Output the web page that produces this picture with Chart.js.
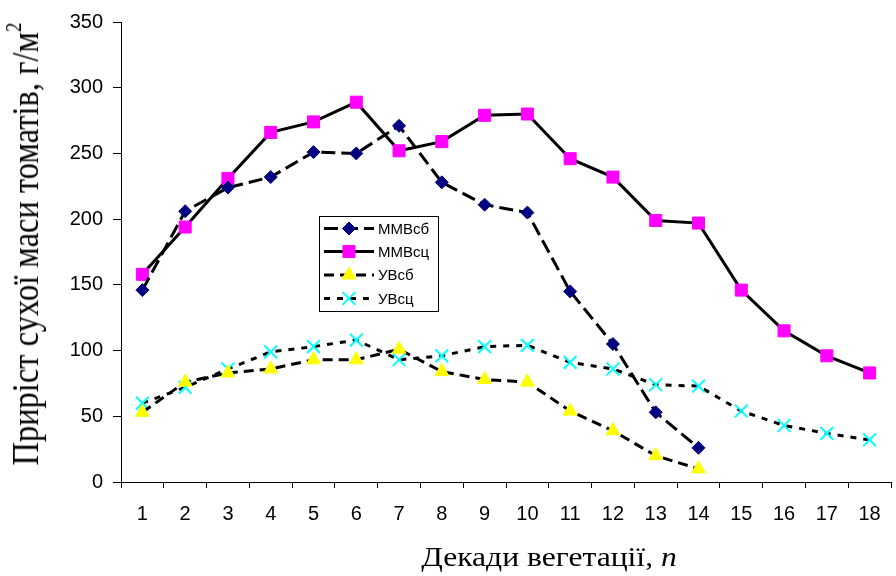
<!DOCTYPE html>
<html>
<head>
<meta charset="utf-8">
<script src="https://cdn.jsdelivr.net/npm/chart.js@4/dist/chart.umd.min.js"></script>
<style>
  html, body { margin: 0; padding: 0; background: #fff; overflow: hidden; width: 896px; height: 576px; }
  #wrap { position: relative; width: 896px; height: 576px; overflow: hidden; }
  canvas { position: absolute; left: 0; top: 0; }
  .ytitle {
    position: absolute; left: 25px; top: 244px;
    transform: translate(-50%, -50%) scaleX(1.16) rotate(-90deg);
    font-family: "Liberation Serif", "Times New Roman", serif; font-size: 32.5px;
    white-space: nowrap; color: #000; line-height: 1;
  }
  .ytitle sup { font-size: 19px; position: relative; top: -3px; }
  .xtitle {
    position: absolute; left: 549px; top: 557px;
    transform: translate(-50%, -50%) scaleX(1.15);
    font-family: "Liberation Serif", "Times New Roman", serif; font-size: 27.5px;
    white-space: nowrap; color: #000; line-height: 1;
  }
</style>
</head>
<body>
<div id="wrap">
  <canvas id="c" width="902" height="576" style="width:902px;height:576px"></canvas>
  <div class="ytitle">Приріст сухої маси томатів, г/м<sup>2</sup></div>
  <div class="xtitle">Декади вегетації, <i>n</i></div>
</div>
<script>
const categories = ['1','2','3','4','5','6','7','8','9','10','11','12','13','14','15','16','17','18'];
const seriesNames = ['ММВсб', 'ММВсц', 'УВсб', 'УВсц'];
const mmvSb = [146, 206, 224, 232, 251, 250, 271, 228, 211, 205, 145, 105, 53, 26, null, null, null, null];
const mmvSc = [158, 194, 231, 266, 274, 289, 252, 259, 279, 280, 246, 232, 199, 197, 146, 115, 96, 83];
const uvSb  = [53, 76, 83, 86, 93, 93, 101, 84, 78, 76, 54, 39, 20, 10, null, null, null, null];
const uvSc  = [60, 72, 86, 99, 103, 108, 93, 96, 103, 104, 91, 86, 74, 73, 54, 43, 37, 32];
const yTicks = [0, 50, 100, 150, 200, 250, 300, 350];

const legendPlugin = {
  id: 'boxLegend',
  afterDraw(chart) {
    const ctx = chart.ctx;
    const x0 = 319, y0 = 216, w = 119, h = 95;
    ctx.save();
    ctx.fillStyle = '#fff';
    ctx.fillRect(x0, y0, w, h);
    ctx.strokeStyle = '#000';
    ctx.lineWidth = 1;
    ctx.strokeRect(x0 + 0.5, y0 + 0.5, w, h);
    const rows = [228.5, 251.5, 275, 298.5];
    chart.data.datasets.forEach((ds, i) => {
      const y = rows[i];
      ctx.save();
      ctx.strokeStyle = ds.borderColor;
      ctx.lineWidth = ds.borderWidth;
      ctx.setLineDash(ds.borderDash || []);
      ctx.beginPath();
      ctx.moveTo(324, y);
      ctx.lineTo(374, y);
      ctx.stroke();
      ctx.restore();
      ctx.save();
      ctx.setLineDash([]);
      ctx.fillStyle = ds.pointBackgroundColor;
      ctx.strokeStyle = ds.pointBorderColor;
      ctx.lineWidth = ds.pointBorderWidth;
      Chart.helpers.drawPoint(ctx, {
        pointStyle: ds.pointStyle, rotation: 0,
        radius: ds.pointRadius, borderWidth: ds.pointBorderWidth
      }, 349, y);
      ctx.restore();
      ctx.fillStyle = '#000';
      ctx.font = '15px "Liberation Sans", Arial, sans-serif';
      ctx.textBaseline = 'middle';
      ctx.textAlign = 'left';
      ctx.fillText(ds.label, 378, y + 1);
    });
    ctx.restore();
  }
};

const fontTick = { family: '"Liberation Sans", Arial, sans-serif', size: 20 };

new Chart(document.getElementById('c'), {
  type: 'line',
  data: {
    labels: categories,
    datasets: [
      {
        label: seriesNames[0], data: mmvSb,
        borderColor: '#000', borderWidth: 3, borderDash: [14, 6],
        pointStyle: 'rectRot', pointRadius: 6.5, pointHoverRadius: 6.5,
        pointBackgroundColor: '#000080', pointBorderColor: '#000080', pointBorderWidth: 1,
        tension: 0, spanGaps: false
      },
      {
        label: seriesNames[1], data: mmvSc,
        borderColor: '#000', borderWidth: 3, borderDash: [],
        pointStyle: 'rect', pointRadius: 8.5, pointHoverRadius: 8.5,
        pointBackgroundColor: '#FF00FF', pointBorderColor: '#FF00FF', pointBorderWidth: 1,
        tension: 0
      },
      {
        label: seriesNames[2], data: uvSb,
        borderColor: '#000', borderWidth: 3, borderDash: [10, 6],
        pointStyle: 'triangle', pointRadius: 8, pointHoverRadius: 8,
        pointBackgroundColor: '#FFFF00', pointBorderColor: '#FFFF00', pointBorderWidth: 1,
        tension: 0
      },
      {
        label: seriesNames[3], data: uvSc,
        borderColor: '#000', borderWidth: 3, borderDash: [6, 7],
        pointStyle: 'crossRot', pointRadius: 9, pointHoverRadius: 9,
        pointBackgroundColor: '#00FFFF', pointBorderColor: '#00FFFF', pointBorderWidth: 2,
        tension: 0
      }
    ]
  },
  options: {
    responsive: false,
    animation: false,
    events: [],
    layout: { padding: { top: 20, left: 0, right: 0, bottom: 0 } },
    plugins: { legend: { display: false }, tooltip: { enabled: false } },
    scales: {
      x: {
        type: 'category',
        offset: true,
        grid: { display: true, offset: true, drawOnChartArea: false, drawTicks: true, tickLength: 6, color: '#000' },
        border: { display: true, color: '#000', width: 1 },
        ticks: { color: '#000', font: fontTick, padding: 14, maxRotation: 0, autoSkip: false },
        afterFit(s) { s.height = 94; }
      },
      y: {
        min: 0, max: 350,
        afterBuildTicks(s) { s.ticks = yTicks.map(v => ({ value: v })); },
        grid: { display: true, drawOnChartArea: false, drawTicks: true, tickLength: 8, color: '#000' },
        border: { display: true, color: '#000', width: 1 },
        ticks: { color: '#000', font: fontTick, padding: 10 },
        afterFit(s) { s.width = 121; }
      }
    }
  },
  plugins: [legendPlugin]
});
</script>
</body>
</html>
